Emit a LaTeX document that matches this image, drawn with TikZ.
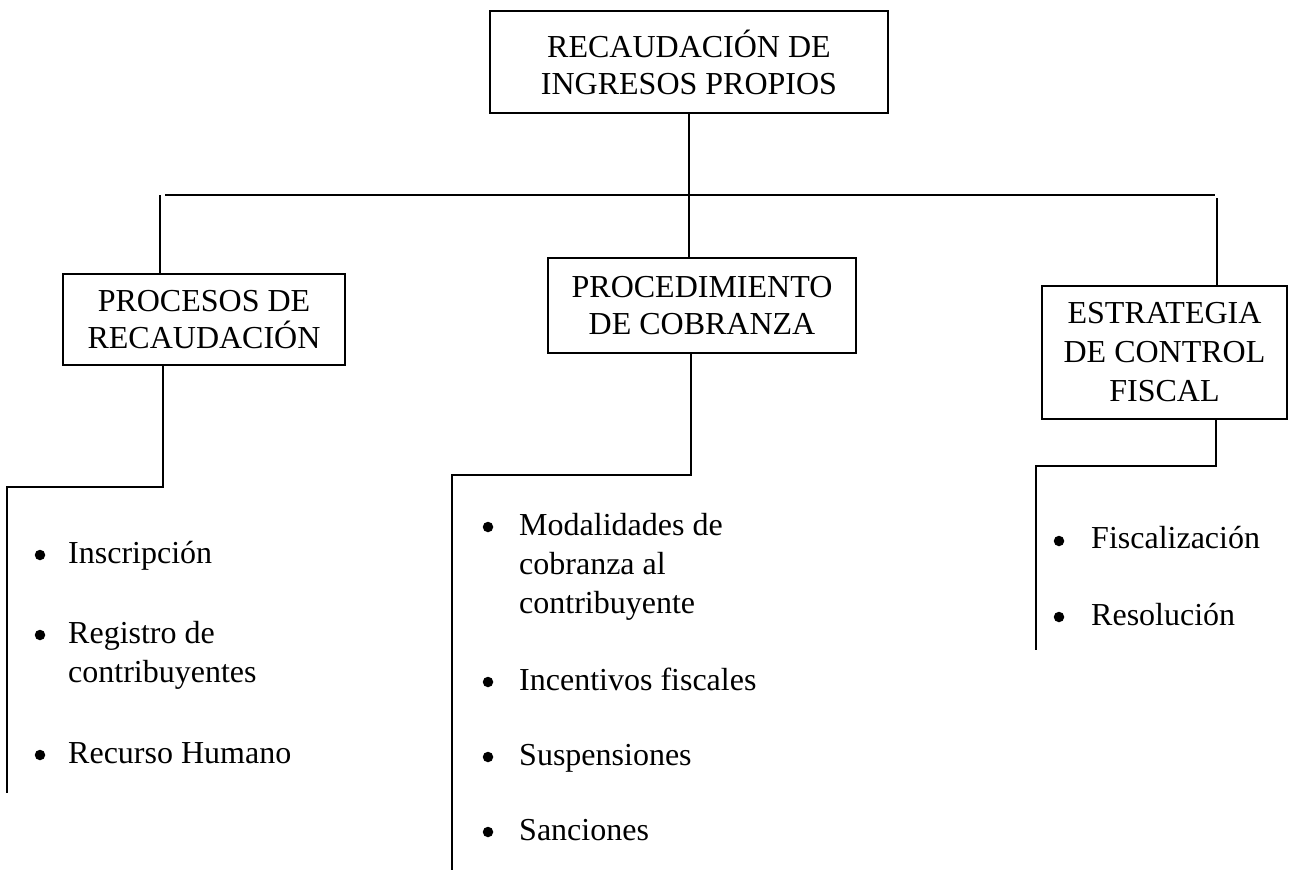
\documentclass[tikz,border=0pt]{standalone}
\usepackage{fontspec}
\setmainfont{Liberation Serif}
\begin{document}
\begin{tikzpicture}[x=1pt,y=-1pt,
  ln/.style={line width=2pt},
  box/.style={draw, line width=2pt, align=center, inner sep=0pt, font=\fontsize{32}{37}\selectfont},
  txt/.style={anchor=base west, inner sep=0pt, font=\fontsize{32}{39}\selectfont},
  dot/.style={circle, fill, inner sep=0pt, minimum size=10.5pt}]
\useasboundingbox (0,0) rectangle (1289,870);

% boxes
\node[box, minimum width=398, minimum height=102] (top) at (689,62) {RECAUDACIÓN DE\\INGRESOS PROPIOS};
\node[box, minimum width=282, minimum height=91] (proc) at (204,319.5) {PROCESOS DE\\RECAUDACIÓN};
\node[box, minimum width=308, minimum height=95] (mid) at (702,305.5) {PROCEDIMIENTO\\DE COBRANZA};
\node[box, minimum width=245, minimum height=133, font=\fontsize{32}{39}\selectfont] (estr) at (1164.5,352) {ESTRATEGIA\\DE CONTROL\\FISCAL};

% upper connectors
\coordinate (hL) at (165,195);
\coordinate (hR) at (1215,195);
\coordinate (sL) at (160,195);
\coordinate (sR) at (1217,198);
\draw[ln] (hL) -- (hR);
\draw[ln] (top.south) -- (top.south |- mid.north);
\draw[ln] (sL) -- (sL |- proc.north);
\draw[ln] (sR) -- (sR |- estr.north);

% lower connectors
\coordinate (pL) at (163,487);
\coordinate (eL) at (7,793);
\draw[ln] (pL |- proc.south) -- (pL) -- (pL -| eL) -- (eL);
\coordinate (pM) at (691,475);
\coordinate (eM) at (452,870);
\draw[ln] (pM |- mid.south) -- (pM) -- (pM -| eM) -- (eM);
\coordinate (pR) at (1216,466);
\coordinate (eR) at (1036,650);
\draw[ln] (pR |- estr.south) -- (pR) -- (pR -| eR) -- (eR);

% left list
\node[dot] (dl1) at (40,555) {};
\node[txt] (l1) at (68,563) {Inscripción};
\node[dot] (dl2) at (40,635) {};
\node[txt] (l2a) at (68,643) {Registro de};
\node[txt] (l2b) at (68,682) {contribuyentes};
\node[dot] (dl3) at (40,755) {};
\node[txt] (l3) at (68,763) {Recurso Humano};

% middle list
\node[dot] (dm1) at (488,527) {};
\node[txt] (m1a) at (519,535) {Modalidades de};
\node[txt] (m1b) at (519,574) {cobranza al};
\node[txt] (m1c) at (519,613) {contribuyente};
\node[dot] (dm2) at (488,682) {};
\node[txt] (m2) at (519,690) {Incentivos fiscales};
\node[dot] (dm3) at (488,757) {};
\node[txt] (m3) at (519,765) {Suspensiones};
\node[dot] (dm4) at (488,832) {};
\node[txt] (m4) at (519,840) {Sanciones};

% right list
\node[dot] (dr1) at (1059,541) {};
\node[txt] (r1) at (1091,548) {Fiscalización};
\node[dot] (dr2) at (1059,617) {};
\node[txt] (r2) at (1091,625) {Resolución};
\end{tikzpicture}
\end{document}
